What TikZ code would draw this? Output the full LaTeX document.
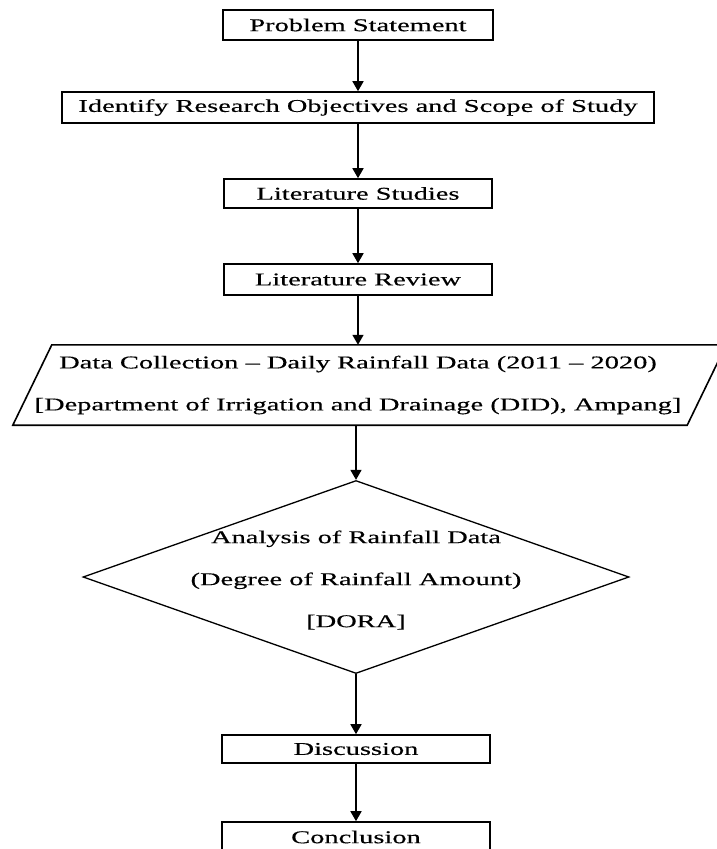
\documentclass[tikz,border=0pt]{standalone}
\usepackage{fontspec}
\setmainfont{Liberation Serif}[FakeStretch=1.58,FakeBold=0.4]
\usetikzlibrary{arrows.meta,shapes.geometric,positioning}

\tikzset{
  box/.style={draw, line width=1.6pt, inner sep=0pt, align=center,
    font=\fontsize{18}{21.6}\selectfont},
  decision/.style={diamond, draw, line width=1.3pt, inner sep=0pt,
    minimum width=546pt, minimum height=193pt},
  arr/.style={line width=1.6pt, -{Triangle[width=11pt,length=10pt]}},
  txt/.style={align=center, inner sep=0pt, font=\fontsize{18}{42}\selectfont}
}

\begin{document}
\begin{tikzpicture}[x=1pt,y=-1pt]
	  \useasboundingbox (0,0) rectangle (716,849);
	  % Draw the boxes
	  \node[box, minimum width=270pt, minimum height=30pt] (ps) at (358,25) {Problem Statement};
	  \node[box, minimum width=592pt, minimum height=31pt] (iro) at (358,107.5) {Identify Research Objectives and Scope of Study};
	  \node[box, minimum width=268pt, minimum height=29pt] (ls) at (358,193.5) {Literature Studies};
	  \node[box, minimum width=268pt, minimum height=31pt] (lr) at (358,279.5) {Literature Review};
	  % Data collection (parallelogram around the text)
	  \node[txt, minimum width=674pt, minimum height=80pt] (dc) at (358,385)
	      {Data Collection -- Daily Rainfall Data (2011 -- 2020)\\
	       {[Department of Irrigation and Drainage (DID), Ampang]}};
	  \draw[line width=1.6pt] ([xshift=-8pt]dc.south west) -- ([xshift=31pt]dc.north west)
	      -- ([xshift=31pt]dc.north east) -- ([xshift=-8pt]dc.south east) -- cycle;
	  % Analysis
	  \node[decision] (ana) at (356,577) {};
	  \node[txt] (anatxt) at (356,580) {Analysis of Rainfall Data\\
	      (Degree of Rainfall Amount)\\ {[DORA]}};
	  \node[box, minimum width=268pt, minimum height=28pt] (dis) at (356,749) {Discussion};
	  \node[box, minimum width=268pt, minimum height=30pt] (con) at (356,837) {Conclusion};
	  % Draw the arrows
	  \draw[arr] (ps) -- (iro);
	  \draw[arr] (iro) -- (ls);
	  \draw[arr] (ls) -- (lr);
	  \draw[arr] (lr) -- (lr |- dc.north);
	  \draw[arr] (ana |- dc.south) -- (ana);
	  \draw[arr] (ana) -- (dis);
	  \draw[arr] (dis) -- (con);
      \end{tikzpicture}
\end{document}
